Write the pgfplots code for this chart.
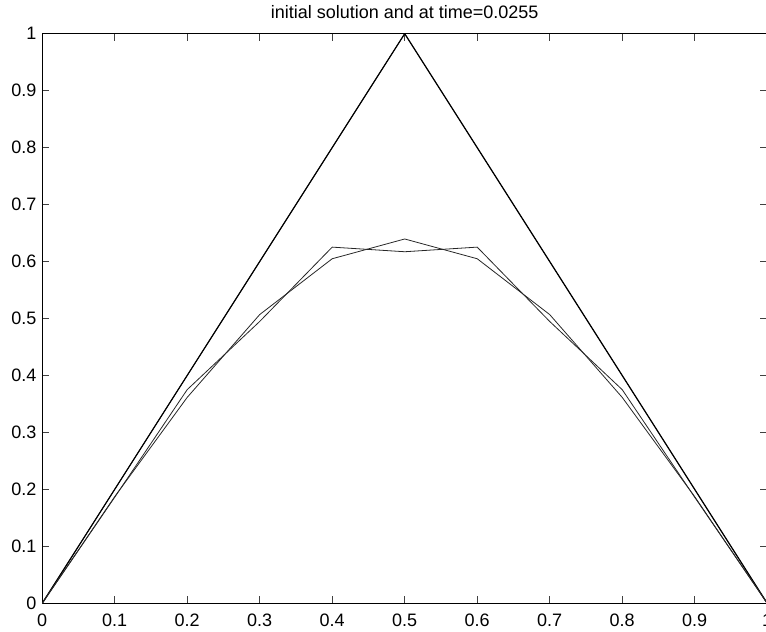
\documentclass[border=0pt]{standalone}
\usepackage{fontspec}
\setmainfont{Liberation Sans}
\usepackage{pgfplots}
\pgfplotsset{compat=1.18}
\begin{document}
\fontsize{18}{21}\selectfont
\begin{tikzpicture}
\begin{axis}[
  name=ax,
  scale only axis,
  width=725pt, height=569.6pt,
  xmin=0, xmax=1, ymin=0, ymax=1,
  xtick={0,0.1,...,1.01}, ytick={0,0.1,...,1.01},
  xticklabels={0,0.1,0.2,0.3,0.4,0.5,0.6,0.7,0.8,0.9,1},
  yticklabels={0,0.1,0.2,0.3,0.4,0.5,0.6,0.7,0.8,0.9,1},
  /pgf/number format/assume math mode=true,
  tick align=inside,
  major tick length=7pt,
  every tick/.style={black!75, line width=0.7pt},
  axis line style={line width=1pt, black},
  tick label style={font=\fontsize{18}{21}\selectfont},
  xticklabel style={anchor=base, inner sep=0pt, yshift=-23.4pt},
  yticklabel style={anchor=east, inner sep=0pt, xshift=-5.5pt},
  every axis title shift=0pt,
  title={initial solution and at time=0.0255},
  title style={at={(0.5,1)}, anchor=base, inner sep=0pt, yshift=15.4pt, font=\fontsize{18}{21}\selectfont},
]
\addplot[black, line width=1.2pt] coordinates {(0,0) (0.5,1) (1,0)};
\addplot[black, line width=0.6pt] coordinates {(0,0) (0.1,0.2) (0.2,0.4) (0.3,0.6) (0.4,0.8) (0.5,1) (0.6,0.8) (0.7,0.6) (0.8,0.4) (0.9,0.2) (1,0)};
\addplot[black!85, line width=0.8pt] coordinates {
(0,0) (0.1,0.1862) (0.2,0.3751) (0.3,0.4948) (0.4,0.6253) (0.5,0.6172)
(0.6,0.6253) (0.7,0.4948) (0.8,0.3751) (0.9,0.1862) (1,0)};
\addplot[black!85, line width=0.8pt] coordinates {
(0,0) (0.1,0.1872) (0.2,0.3615) (0.3,0.5069) (0.4,0.6049) (0.5,0.6396)
(0.6,0.6049) (0.7,0.5069) (0.8,0.3615) (0.9,0.1872) (1,0)};
\end{axis}
\pgfresetboundingbox
\path[use as bounding box] ([xshift=-42.2pt,yshift=-28.7pt]ax.south west) rectangle ([xshift=-1.2pt,yshift=33.7pt]ax.north east);
\end{tikzpicture}
\end{document}
